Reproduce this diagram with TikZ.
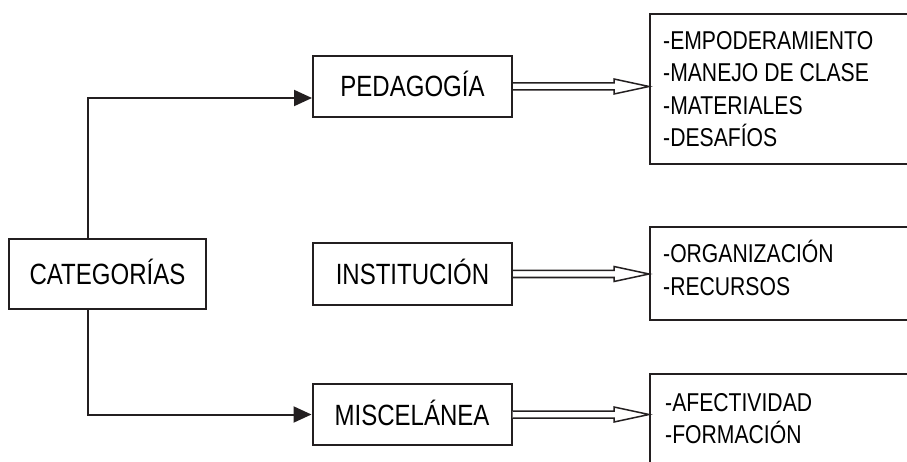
\documentclass[tikz,border=0pt]{standalone}
\usepackage{fontspec}
\setmainfont{Liberation Sans}[FakeStretch=0.82]
\usetikzlibrary{calc,arrows.meta,positioning}
\definecolor{ink}{RGB}{35,31,32}

\begin{document}
\begin{tikzpicture}[x=1pt,y=-1pt,
  catbox/.style={draw=ink,line width=2pt,minimum width=199pt,minimum height=61pt,
    text height=21pt,text depth=0pt,font=\fontsize{29.3}{34}\selectfont},
  listbox/.style={draw=ink,line width=2pt,anchor=north west,minimum width=300pt},
  itemtext/.style={anchor=west,inner sep=0pt,text height=18pt,text depth=0pt,
    font=\fontsize{25.8}{30}\selectfont},
  link/.style={draw=ink,line width=2pt,-{Triangle[length=18pt,width=16pt]}},
  hollow/.style={draw=ink,line width=1.5pt,fill=white,line join=miter}]
\clip (0,0) rectangle (907,462);

\node[catbox,minimum width=197pt,minimum height=70pt] (cat) at (107.5,274) {CATEGORÍAS};
\node[catbox] (ped) at (412.5,86.5) {PEDAGOGÍA};
\node[catbox] (inst) at (412.5,274) {INSTITUCIÓN};
\node[catbox] (misc) at (412,414.5) {MISCELÁNEA};

\node[listbox,minimum height=150pt] (pedl) at (649,13) {};
\node[listbox,minimum height=93pt] (instl) at (649,226) {};
\node[listbox,minimum height=120pt] (miscl) at (649,373) {};

\foreach \i/\item in {0/EMPODERAMIENTO,1/MANEJO DE CLASE,2/MATERIALES,3/DESAFÍOS}
  \node[itemtext] (pedl\i) at ([shift={(14pt,{-27.5pt-32.5pt*\i})}]pedl.north west) {-\item};
\foreach \i/\item in {0/ORGANIZACIÓN,1/RECURSOS}
  \node[itemtext] (instl\i) at ([shift={(14pt,{-27.5pt-32.5pt*\i})}]instl.north west) {-\item};
\foreach \i/\item in {0/AFECTIVIDAD,1/FORMACIÓN}
  \node[itemtext] (miscl\i) at ([shift={(16pt,{-29pt-32.5pt*\i})}]miscl.north west) {-\item};

\draw[link] ([xshift=80pt]cat.north west) |- ([yshift=-11.5pt]ped.west);
\draw[link] ([xshift=80pt]cat.south west) |- (misc.west);

\foreach \a/\b in {ped/pedl,inst/instl,misc/miscl}
  \draw[hollow] let \p1=(\a.east), \p2=(\b.west) in
    (\x1,\y1+3.5pt) -- (\x2-35pt,\y1+3.5pt) -- (\x2-35pt,\y1+7.5pt) -- (\x2,\y1)
    -- (\x2-35pt,\y1-7.5pt) -- (\x2-35pt,\y1-3.5pt) -- (\x1,\y1-3.5pt);
\end{tikzpicture}
\end{document}
